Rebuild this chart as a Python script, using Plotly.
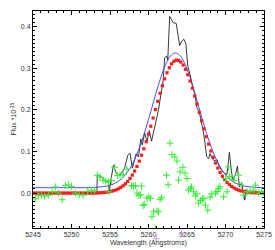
import plotly.graph_objects as go

# ---- data ----
# observed spectrum (black line)
obs_wave = [5253.30, 5253.35, 5253.8, 5254.3, 5254.8, 5254.9, 5255.1, 5255.45, 5255.8, 5256.1,
            5256.5, 5256.9, 5257.3, 5257.6, 5257.9, 5258.1, 5258.4, 5258.7, 5259.0, 5259.2,
            5259.5, 5259.8, 5260.1, 5260.4, 5260.7, 5261.0, 5261.3, 5261.6, 5261.9, 5262.1,
            5262.35, 5262.5, 5262.75, 5262.95, 5263.2, 5263.6, 5263.9, 5264.05, 5264.3, 5264.6,
            5264.85, 5265.1, 5265.4, 5265.7, 5266.0, 5266.3, 5266.6, 5266.8, 5267.1, 5267.35,
            5267.55, 5267.8, 5268.0, 5268.2, 5268.5, 5268.9, 5269.1, 5269.5, 5269.9, 5270.2,
            5270.5, 5270.8, 5271.0, 5271.3, 5271.55, 5271.8, 5272.1, 5272.5, 5272.7]
obs_flux = [0.003, 0.043, 0.040, 0.031, 0.027, 0.004, 0.030, 0.067, 0.048, 0.043,
            0.048, 0.060, 0.090, 0.096, 0.060, 0.075, 0.095, 0.087, 0.130, 0.116,
            0.145, 0.124, 0.150, 0.125, 0.150, 0.175, 0.200, 0.236, 0.270, 0.325,
            0.330, 0.320, 0.425, 0.418, 0.410, 0.408, 0.375, 0.355, 0.365, 0.370,
            0.360, 0.305, 0.285, 0.258, 0.240, 0.205, 0.195, 0.180, 0.150, 0.118,
            0.088, 0.083, 0.095, 0.085, 0.078, 0.080, 0.067, 0.055, 0.047, 0.045,
            0.098, 0.047, 0.030, 0.045, 0.065, 0.015, 0.025, -0.017, 0.010]

# blue fit curve (with continuum), sampled every 0.5 A from 5245
blue_wave = [5245.0 + 0.5 * i for i in range(61)]
blue_flux = [0.013, 0.013, 0.013, 0.013, 0.013, 0.013, 0.013, 0.013, 0.013, 0.013,
             0.013, 0.013, 0.013, 0.013, 0.013, 0.0134, 0.0137, 0.0143, 0.0152, 0.0166,
             0.0189, 0.0223, 0.0272, 0.0343, 0.0440, 0.0568, 0.0734, 0.0938, 0.1182, 0.1462,
             0.1770, 0.2095, 0.2419, 0.2724, 0.2989, 0.3195, 0.3325, 0.3370, 0.3325, 0.3195,
             0.2989, 0.2724, 0.2419, 0.2095, 0.1770, 0.1462, 0.1182, 0.0938, 0.0734, 0.0568,
             0.0440, 0.0343, 0.0272, 0.0223, 0.0189, 0.0166, 0.0152, 0.0143, 0.0137, 0.0134,
             0.0132]

# red model points
red_wave = [round(5245.0 + 0.3 * i, 1) for i in range(101)]
red_flux = [0.0, 0.0, 0.0, 0.0, 0.0, 0.0, 0.0, 0.0, 0.0, 0.0,
            0.0, 0.0, 0.0, 0.0, 0.0, 0.0, 0.0, 0.0, 0.0, 0.0,
            0.0, 0.0, 0.0, 0.0, 0.0, 0.0, 0.0, 0.0, 0.0005, 0.0008,
            0.0011, 0.0016, 0.0023, 0.0032, 0.0044, 0.0059, 0.0078, 0.0103, 0.0135, 0.0174,
            0.0222, 0.0280, 0.0350, 0.0433, 0.0530, 0.0641, 0.0768, 0.0910, 0.1066, 0.1236,
            0.1418, 0.1609, 0.1807, 0.2008, 0.2207, 0.2400, 0.2582, 0.2748, 0.2894, 0.3015,
            0.3108, 0.3170, 0.3198, 0.3192, 0.3153, 0.3081, 0.2978, 0.2848, 0.2695, 0.2523,
            0.2336, 0.2141, 0.1941, 0.1741, 0.1545, 0.1356, 0.1178, 0.1012, 0.0860, 0.0724,
            0.0602, 0.0496, 0.0404, 0.0325, 0.0259, 0.0205, 0.0160, 0.0123, 0.0094, 0.0071,
            0.0053, 0.0039, 0.0029, 0.0021, 0.0015, 0.0011, 0.0008, 0.0005, 0.0004, 0.0003,
            0.0002]

# residuals (green crosses)
res_wave = [5245.3, 5245.7, 5246.1, 5246.5, 5247.0, 5247.5, 5247.9, 5248.3, 5248.8, 5249.2,
            5249.6, 5250.0, 5250.5, 5251.0, 5251.5, 5252.1, 5252.6, 5253.0, 5253.35, 5253.7,
            5254.1, 5254.45, 5254.8, 5254.85, 5255.2, 5255.6, 5256.0, 5256.3, 5256.7, 5257.2,
            5257.8, 5258.05, 5258.3, 5258.5, 5258.75, 5258.95, 5259.1, 5259.3, 5259.45, 5259.8,
            5260.05, 5260.25, 5260.45, 5260.65, 5260.9, 5261.1, 5261.3, 5261.5, 5261.7, 5262.35,
            5262.55, 5262.8, 5263.05, 5263.4, 5263.7, 5263.9, 5264.1, 5264.45, 5264.75, 5265.0,
            5265.2, 5265.45, 5265.6, 5265.85, 5266.1, 5266.3, 5266.5, 5266.75, 5267.0, 5267.2,
            5267.4, 5267.7, 5268.0, 5268.2, 5268.7, 5268.9, 5269.1, 5269.3, 5269.75, 5270.0,
            5270.2, 5270.4, 5270.5, 5270.8, 5271.1, 5271.7, 5272.05, 5272.35, 5272.8, 5273.2,
            5273.65, 5273.9, 5274.3, 5274.7, 5275.0]
res_flux = [-0.014, -0.006, -0.005, -0.007, -0.005, 0.003, 0.015, 0.000, -0.016, 0.018,
            0.020, 0.016, 0.000, -0.004, -0.005, 0.004, 0.007, 0.006, 0.043, 0.038,
            0.031, 0.029, 0.026, 0.003, 0.030, 0.062, 0.042, 0.043, 0.045, 0.058,
            0.018, 0.016, 0.018, 0.000, -0.006, -0.004, 0.017, -0.030, -0.027, -0.012,
            -0.009, -0.013, -0.057, -0.045, -0.085, -0.043, -0.045, -0.015, -0.011, 0.043,
            0.020, 0.120, 0.093, 0.087, 0.077, 0.031, 0.051, 0.062, 0.048, 0.035,
            0.007, 0.011, 0.015, 0.003, -0.007, -0.002, -0.024, -0.018, -0.014, -0.013,
            -0.029, -0.041, -0.010, -0.002, 0.000, 0.004, 0.011, 0.015, -0.009, 0.035,
            0.003, 0.063, 0.040, 0.040, 0.030, 0.043, 0.019, -0.005, 0.003, 0.003,
            0.007, 0.019, 0.000, 0.003, 0.001]

# stray points below the frame (lavender crosses)
out_wave = [5261.0, 5264.3]
out_flux = [-0.110, -0.098]

x_ticks = [5245, 5250, 5255, 5260, 5265, 5270, 5275]
y_ticks = [0.0, 0.1, 0.2, 0.3, 0.4]

# ---- layout geometry (pixels) ----
W, H = 275, 250
PL, PR, PT, PB = 33, 264, 11, 228          # plot frame edges
XR = [5245, 5275]
YR = [-0.084, 0.438]
xdom = [PL / W, PR / W]
ydom = [(H - PB) / H, (H - PT) / H]
# full-page overlay axis with identical data scaling (for points outside the frame)
sx = (XR[1] - XR[0]) / (PR - PL)
sy = (YR[1] - YR[0]) / (PB - PT)
XR2 = [XR[0] - PL * sx, XR[1] + (W - PR) * sx]
YR2 = [YR[0] - (H - PB) * sy, YR[1] + PT * sy]

FONT = dict(family="Liberation Sans, Arial", size=7, color="#333333")

fig = go.Figure()
fig.add_trace(go.Scatter(x=obs_wave, y=obs_flux, mode="lines",
                         line=dict(color="#222222", width=0.9)))
fig.add_trace(go.Scatter(x=blue_wave, y=blue_flux, mode="lines", line_shape="spline",
                         line=dict(color="#3a3aff", width=0.9)))
fig.add_trace(go.Scatter(x=red_wave, y=red_flux, mode="markers",
                         marker=dict(symbol="square", size=3.2, color="#ff1a1a",
                                     line=dict(width=0))))
fig.add_trace(go.Scatter(x=res_wave, y=res_flux, mode="markers",
                         marker=dict(symbol="cross-thin", size=5,
                                     line=dict(width=1, color="#33f033"))))
fig.add_trace(go.Scatter(x=out_wave, y=out_flux, mode="markers", xaxis="x2", yaxis="y2",
                         marker=dict(symbol="cross-thin", size=5,
                                     line=dict(width=1, color="#c8a0e8"))))

axis_common = dict(showgrid=False, zeroline=False, showline=True, linecolor="black",
                   linewidth=1, mirror="ticks", ticks="inside", ticklen=4,
                   tickcolor="black", tickwidth=0.8, automargin=False,
                   tickfont=FONT)

fig.update_layout(
    xaxis=dict(range=XR, domain=xdom, tickvals=x_ticks,
               ticktext=[str(v) for v in x_ticks],
               minor=dict(dtick=1, ticklen=2, ticks="inside", tickcolor="black"),
               **axis_common),
    yaxis=dict(range=YR, domain=ydom, tickvals=y_ticks,
               ticktext=["%.1f" % v for v in y_ticks],
               minor=dict(dtick=0.01, ticklen=2, ticks="inside", tickcolor="black"),
               **axis_common),
    xaxis2=dict(range=XR2, domain=[0, 1], anchor="y2", visible=False),
    yaxis2=dict(range=YR2, domain=[0, 1], anchor="x2", visible=False),
)

fig.add_annotation(text="Wavelength (Angstroms)", xref="paper", yref="paper",
                   x=(PL + PR) / 2 / W, y=(H - 243) / H, xanchor="center", yanchor="middle",
                   showarrow=False, font=FONT)
fig.add_annotation(text="Flux *10<sup>-15</sup>", xref="paper", yref="paper",
                   x=13 / W, y=(H - (PT + PB) / 2) / H, xanchor="center", yanchor="middle",
                   textangle=-90, showarrow=False, font=FONT)

fig.update_layout(width=W, height=H, showlegend=False,
                  margin=dict(l=0, r=0, t=0, b=0),
                  plot_bgcolor="rgba(0,0,0,0)", paper_bgcolor="white")

fig.write_html("out.html", config={"displayModeBar": False},
               post_script="document.body.style.margin='0';"
                           "document.body.style.overflow='hidden';")
